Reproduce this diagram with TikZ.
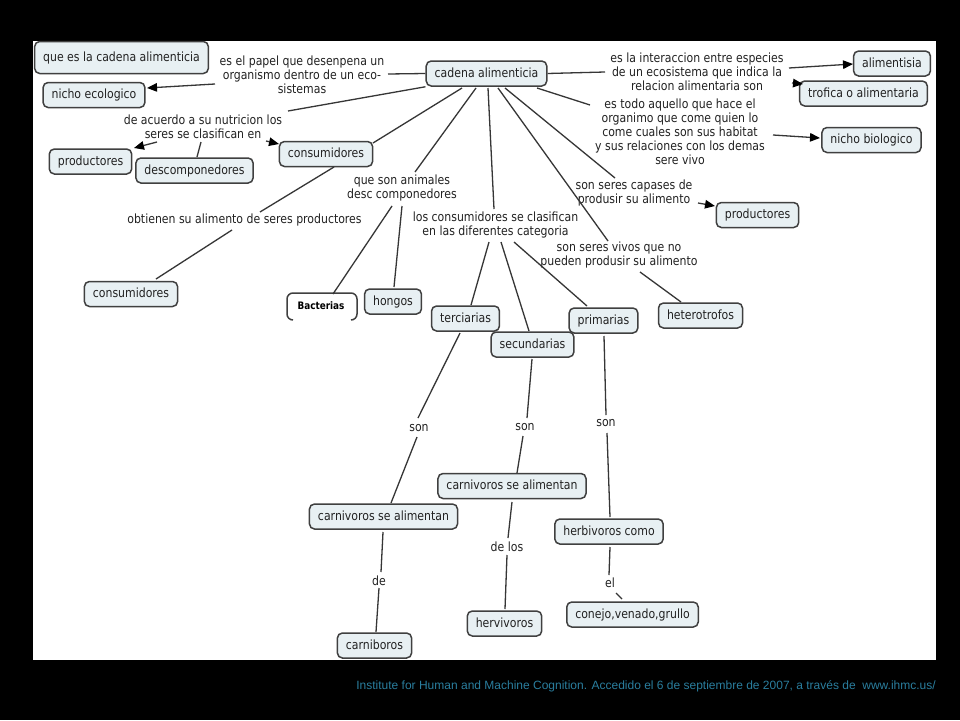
\documentclass[tikz,border=0pt]{standalone}
\usepackage{fontspec}
\setmainfont{DejaVu Sans}[FakeStretch=0.86]
\newfontfamily\footfont{Liberation Sans}
\usetikzlibrary{arrows.meta}
\definecolor{nodefill}{HTML}{E8F0F3}
\definecolor{nodeline}{HTML}{404040}
\definecolor{linkc}{HTML}{363636}
\definecolor{txt}{HTML}{222222}
\definecolor{footc}{HTML}{2A7E9E}
\tikzset{
  concept/.style={draw=nodeline, fill=nodefill, line width=1.5pt, rounded corners=5pt,
    inner xsep=8.5pt, inner ysep=0pt, minimum height=25pt, text height=9.5pt, text depth=2.5pt,
    text=txt, font=\fontsize{12.7}{14}\selectfont},
  link/.style={align=center, inner sep=0pt, text=txt, font=\fontsize{12.7}{14}\selectfont},
  conn/.style={draw=linkc, line width=1.3pt},
  arr/.style={conn, -{Triangle[length=10pt,width=8.5pt,color=black]}},
  bacstyle/.style={inner sep=0pt, text=black, font=\fontsize{10.3}{12}\selectfont\bfseries},
  openbox/.style={draw=nodeline, line width=1.5pt, rounded corners=6pt}
}
\begin{document}
\begin{tikzpicture}[x=1pt,y=-1pt]
\useasboundingbox (0,0) rectangle (960,720);
\fill[black] (0,0) rectangle (960,720);
\fill[white] (33,41) rectangle (936,660);

% concepts
\node[concept, minimum height=32pt] (q) at (121.5,57.5) {que es la cadena alimenticia};
\node[concept] (ne) at (94,95) {nicho ecologico};
\node[concept] (pl) at (90.5,161.5) {productores};
\node[concept] (des) at (194.5,170.5) {descomponedores};
\node[concept] (ct) at (326,154) {consumidores};
\node[concept] (cb) at (131,294) {consumidores};
\node[bacstyle] (bac) at (321,306) {Bacterias};
\draw[openbox] (293,320) -- (287,320) -- (287,293) -- (357,293) -- (357,320) -- (351,320);
\node[concept] (hon) at (393,301.5) {hongos};
\node[concept] (cad) at (486.5,73.5) {cadena alimenticia};
\node[concept] (ali) at (892,63.5) {alimentisia};
\node[concept] (tro) at (863.5,93.5) {trofica o alimentaria};
\node[concept] (nb) at (871.5,140) {nicho biologico};
\node[concept] (pr) at (757.5,215) {productores};
\node[concept] (ter) at (465.5,318.5) {terciarias};
\node[concept] (sec) at (532.5,344.5) {secundarias};
\node[concept] (pri) at (603.5,320.5) {primarias};
\node[concept] (het) at (700.5,315.5) {heterotrofos};
\node[concept] (cm) at (512,486) {carnivoros se alimentan};
\node[concept] (cl) at (383.5,516.5) {carnivoros se alimentan};
\node[concept] (her) at (609,531.5) {herbivoros como};
\node[concept] (hv) at (504.5,623.5) {hervivoros};
\node[concept] (con) at (632.5,614.5) {conejo,venado,grullo};
\node[concept] (car) at (374.5,645.5) {carniboros};

% linking phrases
\node[link] (L1) at (302,75) {es el papel que desenpena un\\organismo dentro de un eco-\\sistemas};
\node[link] (L2) at (203,126.5) {de acuerdo a su nutricion los\\seres se clasifican en};
\node[link] (L3) at (697,72) {es la interaccion entre especies\\de un ecosistema que indica la\\relacion alimentaria son};
\node[link] (L4) at (680,131.5) {es todo aquello que hace el\\organimo que come quien lo\\come cuales son sus habitat\\y sus relaciones con los demas\\sere vivo};
\node[link] (L5) at (634,193) {son seres capases de\\produsir su alimento};
\node[link] (L6) at (402,188) {que son animales\\desc componedores};
\node[link] (L7) at (495.5,224.5) {los consumidores se clasifican\\en las diferentes categoria};
\node[link] (L8) at (244.5,220) {obtienen su alimento de seres productores};
\node[link] (L9) at (619,254.5) {son seres vivos que no\\pueden produsir su alimento};
\node[link] (L10) at (419,428) {son};
\node[link] (L11) at (525,427) {son};
\node[link] (L12) at (606,423) {son};
\node[link] (L13) at (507,547) {de los};
\node[link] (L14) at (379,581) {de};
\node[link] (L15) at (610,583) {el};

% connectors
\draw[conn] (cad.west) -- ([shift={(86,-1)}]L1.center);
\draw[arr] ([shift={(-87,9)}]L1.center) -- ([shift={(53,-7)}]ne.center);
\draw[conn] (cad.south west) -- ([shift={(85,-15.5)}]L2.center);
\draw[arr] ([shift={(-46,15.5)}]L2.center) -- ([shift={(43.5,-13.5)}]pl.center);
\draw[conn] ([shift={(-2,15.5)}]L2.center) -- ([shift={(2.5,-13.5)}]des.center);
\draw[arr] ([shift={(63,14.5)}]L2.center) -- ([shift={(-47,-10)}]ct.center);
\draw[conn] ([shift={(-24.5,14.5)}]cad.center) -- ([shift={(47,-11)}]ct.center);
\draw[conn] ([shift={(8,13)}]ct.center) -- ([shift={(15.5,-8)}]L8.center);
\draw[conn] ([shift={(-12.5,10)}]L8.center) -- ([shift={(25,-15)}]cb.center);
\draw[conn] ([shift={(-10.5,14.5)}]cad.center) -- ([shift={(13,-16)}]L6.center);
\draw[conn] ([shift={(-10,18)}]L6.center) -- ([shift={(12,-12)}]bac.center);
\draw[conn] ([shift={(0,18)}]L6.center) -- ([shift={(1,-14.5)}]hon.center);
\draw[conn] ([shift={(1.5,14.5)}]cad.center) -- ([shift={(-1.5,-15.5)}]L7.center);
\draw[conn] ([shift={(-6.5,17.5)}]L7.center) -- ([shift={(5.5,-13.5)}]ter.center);
\draw[conn] ([shift={(5.5,17.5)}]L7.center) -- ([shift={(-3.5,-13.5)}]sec.center);
\draw[conn] ([shift={(18.5,17.5)}]L7.center) -- ([shift={(-16.5,-14.5)}]pri.center);
\draw[conn] ([shift={(11.5,14.5)}]cad.center) -- ([shift={(-11,-13.5)}]L9.center);
\draw[conn] ([shift={(21,17.5)}]L9.center) -- ([shift={(-19.5,-13.5)}]het.center);
\draw[conn] ([shift={(18.5,14.5)}]cad.center) -- ([shift={(-19,-15)}]L5.center);
\draw[arr] ([shift={(64,10)}]L5.center) -- ([shift={(-42.5,-9)}]pr.center);
\draw[conn] (cad.east) -- ([shift={(-92,0)}]L3.center);
\draw[arr] ([shift={(92,-4)}]L3.center) -- ([shift={(-39,0.5)}]ali.center);
\draw[arr] ([shift={(95,11)}]L3.center) -- ([shift={(-60.5,-9.5)}]tro.center);
\draw[conn] ([shift={(50.5,14.5)}]cad.center) -- ([shift={(-90,-26.5)}]L4.center);
\draw[arr] ([shift={(93,3.5)}]L4.center) -- ([shift={(-51.5,-2)}]nb.center);
\draw[conn] ([shift={(-5.5,14.5)}]ter.center) -- ([shift={(-1,-10)}]L10.center);
\draw[conn] ([shift={(-2,9)}]L10.center) -- ([shift={(7.5,-13.5)}]cl.center);
\draw[conn] ([shift={(-0.5,14.5)}]sec.center) -- ([shift={(2,-9)}]L11.center);
\draw[conn] ([shift={(-2,9)}]L11.center) -- ([shift={(5,-13)}]cm.center);
\draw[conn] ([shift={(0.5,15.5)}]pri.center) -- ([shift={(0,-8)}]L12.center);
\draw[conn] ([shift={(1,10)}]L12.center) -- ([shift={(1,-14.5)}]her.center);
\draw[conn] ([shift={(0,16)}]cm.center) -- ([shift={(1,-9)}]L13.center);
\draw[conn] ([shift={(0,8)}]L13.center) -- ([shift={(0.5,-14.5)}]hv.center);
\draw[conn] ([shift={(-0.5,15.5)}]cl.center) -- ([shift={(2,-9)}]L14.center);
\draw[conn] ([shift={(0,7)}]L14.center) -- ([shift={(1.5,-13.5)}]car.center);
\draw[conn] ([shift={(1,15.5)}]her.center) -- ([shift={(-1,-8)}]L15.center);
\draw[conn] ([shift={(6,10)}]L15.center) -- ([shift={(-10.5,-15.5)}]con.center);

% footer
\node[anchor=east, inner sep=0pt, text=footc, font=\footfont\fontsize{12}{14}\selectfont] (foot) at (936,686) {Institute for Human and Machine Cognition. Accedido el 6 de septiembre de 2007, a través de \ www.ihmc.us/};
\end{tikzpicture}
\end{document}
